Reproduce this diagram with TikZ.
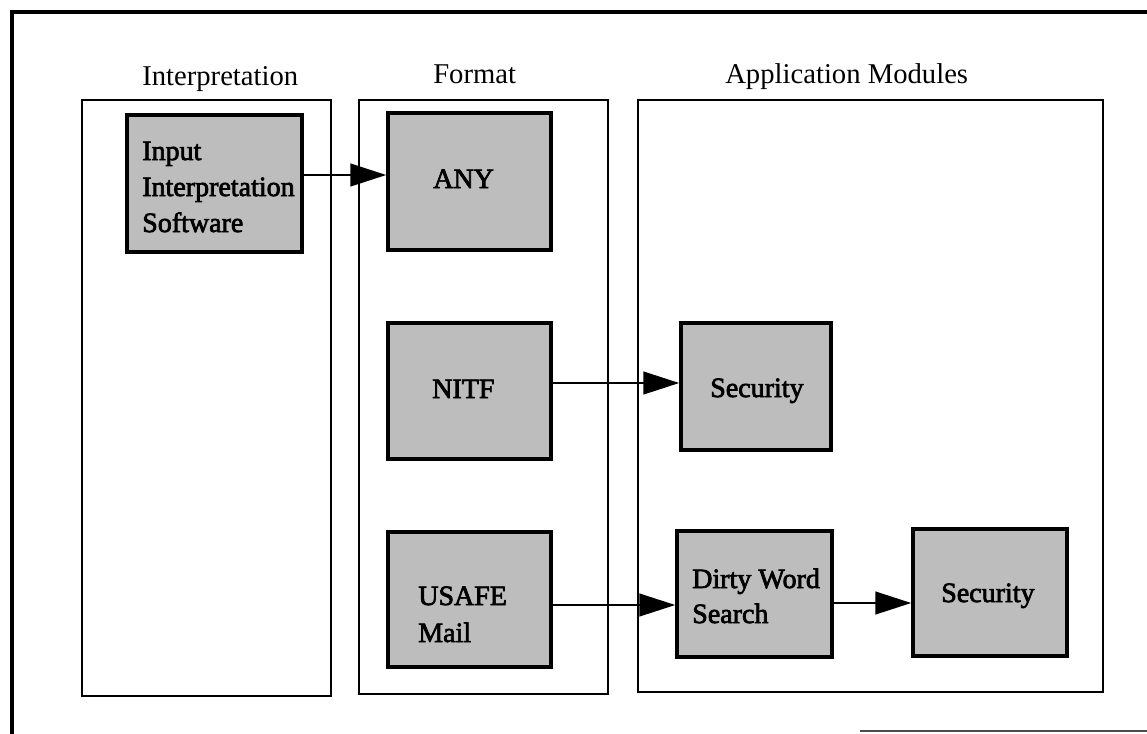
\documentclass[tikz,border=0pt]{standalone}
\usepackage{fontspec}
\setmainfont{Liberation Serif}
\newfontfamily\boxfont{Liberation Serif}[FakeBold=2.5]
\usetikzlibrary{arrows.meta}
\begin{document}
\begin{tikzpicture}[x=0.75pt,y=-0.75pt,
  frameline/.style={line width=3.6pt,line cap=rect},
  panel/.style={draw,line width=1.8pt},
  module/.style={draw,line width=2.6pt,fill=black!26,inner sep=0pt},
  title/.style={font=\fontsize{21.5}{26}\selectfont,anchor=base west,inner sep=0pt},
  boxtext/.style={font=\boxfont\fontsize{21}{26}\selectfont,anchor=base west,inner sep=0pt},
  flow/.style={line width=1.8pt,-{Triangle[length=27pt,width=17pt]}}]
\useasboundingbox (0,0) rectangle (1147,733);
\clip (0,0) rectangle (1147,733);
% outer frame
\draw[frameline] (12,760) -- (12,12) -- (1170,12);
\draw[line width=1.4pt,black!70] (860,731) -- (1147,731);
% panels
\draw[panel] (82,100) rectangle (331,696);
\draw[panel] (359,100) rectangle (608,694);
\draw[panel] (638,100) rectangle (1103,692);
% titles
\node[title] (t1) at (142,85) {Interpretation};
\node[title] (t2) at (433,83) {Format};
\node[title] (t3) at (725,83) {Application Modules};
% modules
\node[module,minimum width=131.25pt,minimum height=102.75pt] (inp) at (214.5,183.5) {};
\node[module,minimum width=122.25pt,minimum height=102.75pt] (any) at (469.5,181.5) {};
\node[module,minimum width=122.25pt,minimum height=102pt] (nitf) at (469.5,391) {};
\node[module,minimum width=122.25pt,minimum height=101.25pt] (usafe) at (469.5,599.5) {};
\node[module,minimum width=112.5pt,minimum height=95.25pt] (sec1) at (756,386.5) {};
\node[module,minimum width=116.25pt,minimum height=94.5pt] (dirty) at (754.5,594) {};
\node[module,minimum width=115.5pt,minimum height=95.25pt] (sec2) at (990,592.5) {};
% module texts
\node[boxtext] (inpA) at (142,160) {Input};
\node[boxtext] (inpB) at (142,196) {Interpretation};
\node[boxtext] (inpC) at (142,232) {Software};
\node[boxtext] (anyT) at (433,188) {ANY};
\node[boxtext] (nitfT) at (432,398) {NITF};
\node[boxtext] (usafeA) at (418,605) {USAFE};
\node[boxtext] (usafeB) at (418,642) {Mail};
\node[boxtext] (sec1T) at (710,397) {Security};
\node[boxtext] (dirtyA) at (692,588) {Dirty Word};
\node[boxtext] (dirtyB) at (692,623) {Search};
\node[boxtext] (sec2T) at (941,602) {Security};
% connectors
\draw[flow] (inp.east |- 0,175) -- (any.west |- 0,175);
\draw[flow] (nitf.east |- 0,383) -- (sec1.west |- 0,383);
\draw[flow] (usafe.east |- 0,605) -- (dirty.west |- 0,605);
\draw[flow] (dirty.east |- 0,603) -- (sec2.west |- 0,603);
\end{tikzpicture}
\end{document}
